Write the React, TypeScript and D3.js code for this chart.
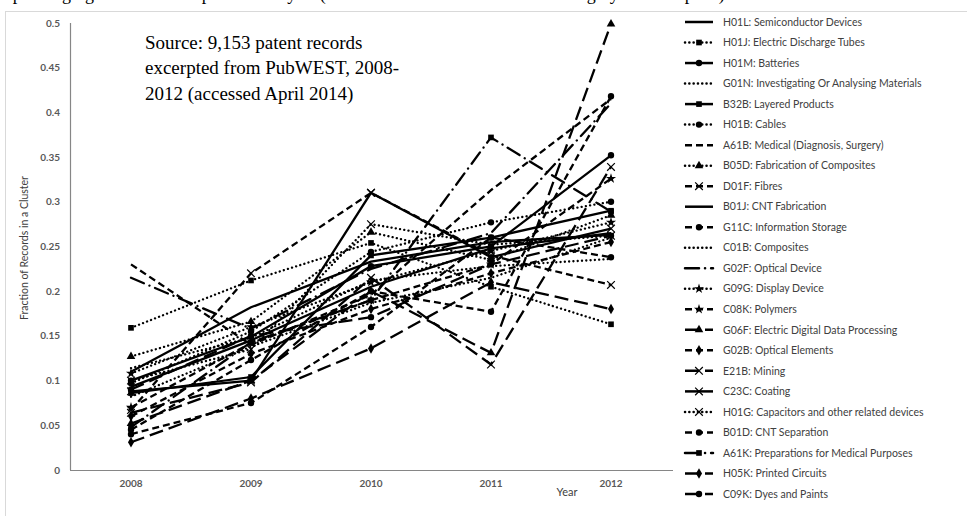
import React from "react";
import * as d3 from "d3";

const years = [2008, 2009, 2010, 2011, 2012];
const yTicks = [0, 0.05, 0.1, 0.15, 0.2, 0.25, 0.3, 0.35, 0.4, 0.45, 0.5];

const seriesNames = [
  "H01L: Semiconductor Devices",
  "H01J: Electric Discharge Tubes",
  "H01M: Batteries",
  "G01N: Investigating Or Analysing Materials",
  "B32B: Layered Products",
  "H01B: Cables",
  "A61B: Medical (Diagnosis, Surgery)",
  "B05D: Fabrication of Composites",
  "D01F: Fibres",
  "B01J: CNT Fabrication",
  "G11C: Information Storage",
  "C01B: Composites",
  "G02F: Optical Device",
  "G09G: Display Device",
  "C08K: Polymers",
  "G06F: Electric Digital Data Processing",
  "G02B: Optical Elements",
  "E21B: Mining",
  "C23C: Coating",
  "H01G: Capacitors and other related devices",
  "B01D: CNT Separation",
  "A61K: Preparations for Medical Purposes",
  "H05K: Printed Circuits",
  "C09K: Dyes and Paints",
];

// line style per series
const seriesDash = [
  "solid", "dot", "solid", "dot", "solid", "dot", "dash", "dot",
  "dash", "solid", "dash", "dot", "dashdot", "dot", "dash", "long",
  "dash", "long", "solid", "dot", "dash", "longdashdot", "long", "long",
];
const seriesMarker = [
  "none", "square", "circle", "none", "square", "circle", "none", "triangle",
  "x", "plus", "circle", "plus", "none", "star", "star", "triangle",
  "diamond", "x", "x", "x", "circle", "square", "diamond", "circle",
];

const v2008 = [0.11, 0.159, 0.1, 0.114, 0.086, 0.097, 0.23, 0.127, 0.067, 0.093, 0.045, 0.082, 0.215, 0.108, 0.07, 0.052, 0.06, 0.064, 0.088, 0.1, 0.04, 0.048, 0.031, 0.09];
const v2009 = [0.182, 0.212, 0.149, 0.148, 0.104, 0.155, 0.14, 0.166, 0.22, 0.145, 0.123, 0.138, 0.158, 0.16, 0.142, 0.1, 0.13, 0.098, 0.1, 0.135, 0.075, 0.143, 0.08, 0.15];
const v2010 = [0.233, 0.254, 0.228, 0.212, 0.24, 0.244, 0.196, 0.266, 0.31, 0.205, 0.2, 0.187, 0.225, 0.21, 0.19, 0.2, 0.18, 0.215, 0.31, 0.275, 0.16, 0.19, 0.136, 0.171];
const v2011 = [0.255, 0.205, 0.25, 0.228, 0.26, 0.277, 0.313, 0.235, 0.24, 0.248, 0.177, 0.215, 0.265, 0.245, 0.23, 0.131, 0.22, 0.118, 0.238, 0.252, 0.26, 0.372, 0.21, 0.23];
const v2012 = [0.263, 0.163, 0.352, 0.236, 0.29, 0.3, 0.415, 0.285, 0.207, 0.265, 0.418, 0.26, 0.41, 0.277, 0.326, 0.499, 0.255, 0.339, 0.27, 0.262, 0.238, 0.289, 0.18, 0.262];

const dashArrays: Record<string, string | undefined> = {
  solid: undefined,
  dot: "0.1 4.2",
  dash: "7 4",
  long: "14 6",
  dashdot: "14 6 0.1 6",
  longdashdot: "14 6 0.1 6",
};

function Marker({ type, x, y }: { type: string; x: number; y: number }) {
  if (type === "none") return null;
  const map: Record<string, any> = {
    circle: d3.symbolCircle,
    square: d3.symbolSquare,
    triangle: d3.symbolTriangle,
    diamond: d3.symbolDiamond,
    x: d3.symbolX,
    plus: d3.symbolPlus,
    star: d3.symbolStar,
  };
  const size = type === "x" ? 40 : type === "plus" ? 30 : 32;
  const path = d3.symbol().type(map[type]).size(size)() || "";
  const stroke = type === "x";
  return (
    <path
      d={path}
      transform={`translate(${x},${y})`}
      fill={stroke ? "none" : "#000"}
      stroke={stroke ? "#000" : "none"}
      strokeWidth={stroke ? 1.2 : 0}
    />
  );
}

export default function App() {
  const W = 967;
  const H = 516;
  const x = d3.scaleLinear().domain([2007.5, 2012.5]).range([71, 671]);
  const y = d3.scaleLinear().domain([0, 0.5]).range([470, 23]);
  const cols = [v2008, v2009, v2010, v2011, v2012];
  const series = seriesNames.map((name, i) => ({
    name,
    dash: seriesDash[i],
    marker: seriesMarker[i],
    values: cols.map((c, j) => ({ year: years[j], v: c[i] })),
  }));
  const line = d3
    .line<{ year: number; v: number }>()
    .x((d) => x(d.year))
    .y((d) => y(d.v));

  const legendY = d3.scaleLinear().domain([0, 23]).range([22, 494]);
  const sans = "Lato, 'Open Sans', sans-serif";

  return (
    <svg
      width={W}
      height={H}
      style={{ position: "absolute", left: 0, top: 0, background: "#fff" }}
    >
      <rect x={0} y={0} width={W} height={H} fill="#fff" />
      <text
        x={-6}
        y={-0.5}
        fontFamily="'Liberation Serif', serif"
        fontSize={18}
        fill="#000"
      >
        Top emerging IPC codes for patents analysis (The colours have been converted to greyscale for print)
      </text>
      <rect
        x={5.5}
        y={11.5}
        width={W}
        height={H}
        fill="none"
        stroke="#d9d9d9"
        strokeWidth={1}
      />
      {/* axes */}
      <line x1={70.5} x2={70.5} y1={y(0.5)} y2={y(0)} stroke="#868686" strokeWidth={1.2} />
      <line x1={70} x2={673} y1={y(0) + 0.5} y2={y(0) + 0.5} stroke="#868686" strokeWidth={1.2} />
      {yTicks.map((t) => (
        <text
          key={t}
          x={60}
          y={y(t)}
          dy="0.35em"
          textAnchor="end"
          fontFamily={sans}
          fontWeight="bold"
          fontSize={10}
          fill="#595959"
        >
          {String(t)}
        </text>
      ))}
      {years.map((yr) => (
        <text
          key={yr}
          x={x(yr)}
          y={487}
          textAnchor="middle"
          fontFamily={sans}
          fontWeight="bold"
          fontSize={10}
          fill="#595959"
        >
          {yr}
        </text>
      ))}
      <text x={567} y={496} textAnchor="middle" fontFamily={sans} fontSize={11} fill="#404040">
        Year
      </text>
      <text
        transform="translate(28,248) rotate(-90)"
        textAnchor="middle"
        fontFamily={sans}
        fontSize={10.5}
        fill="#404040"
      >
        Fraction of Records in a Cluster
      </text>
      {/* source note */}
      <g fontFamily="'Liberation Serif', serif" fontSize={19} fill="#000">
        <text x={145} y={48.5}>Source: 9,153 patent records</text>
        <text x={145} y={74}>excerpted from PubWEST, 2008-</text>
        <text x={145} y={99.5}>2012 (accessed April 2014)</text>
      </g>
      {/* series */}
      {series.map((s, i) => (
        <g key={i}>
          <path
            d={line(s.values) || ""}
            fill="none"
            stroke="#000"
            strokeWidth={2.3}
            strokeDasharray={dashArrays[s.dash]}
            strokeLinecap={s.dash.includes("dot") ? "round" : "butt"}
          />
          {s.values.map((d, j) => (
            <Marker key={j} type={s.marker} x={x(d.year)} y={y(d.v)} />
          ))}
        </g>
      ))}
      {/* legend */}
      {series.map((s, i) => {
        const ly = legendY(i);
        return (
          <g key={"l" + i}>
            <line
              x1={685}
              x2={713}
              y1={ly}
              y2={ly}
              stroke="#000"
              strokeWidth={2.5}
              strokeDasharray={dashArrays[s.dash]}
              strokeLinecap={s.dash.includes("dot") ? "round" : "butt"}
            />
            <Marker type={s.marker} x={699} y={ly} />
            <text
              x={723}
              y={ly}
              dy="0.35em"
              fontFamily={sans}
              fontSize={10.5}
              fill="#404040"
            >
              {s.name}
            </text>
          </g>
        );
      })}
    </svg>
  );
}
